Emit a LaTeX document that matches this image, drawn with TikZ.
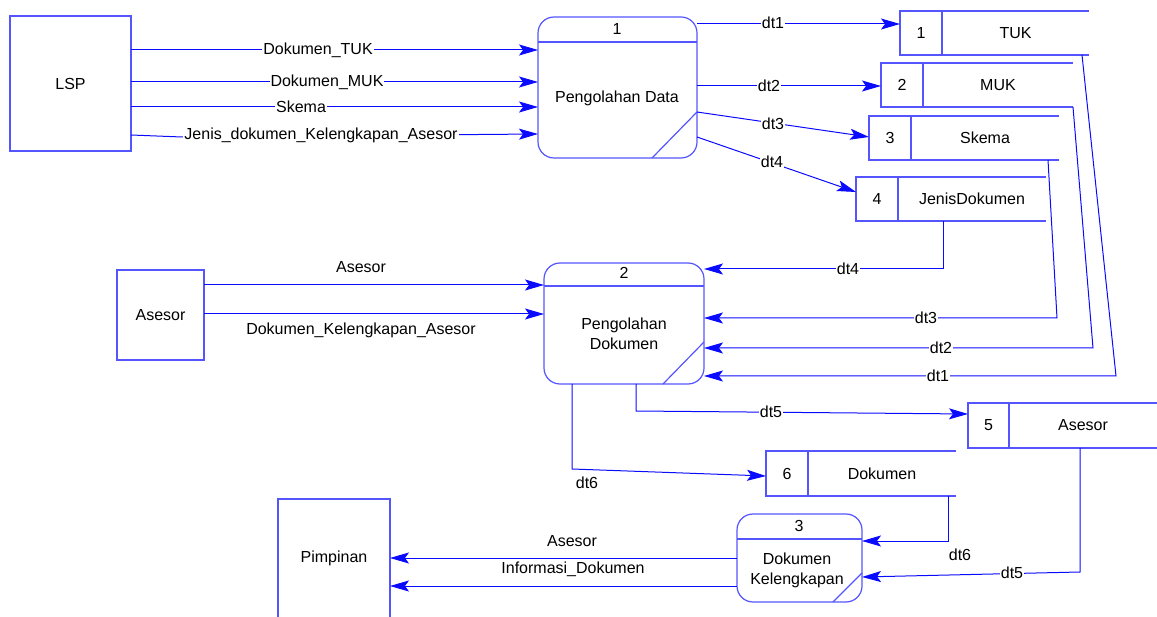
\documentclass[tikz,border=0pt]{standalone}
\usepackage{fontspec}
\setmainfont{Liberation Sans}
\usetikzlibrary{arrows.meta}
\definecolor{flowcol}{RGB}{10,10,255}
\definecolor{boxcol}{RGB}{85,85,255}
\newcommand\DataStore[8]{%
  \node[minimum width={#4-#2}, minimum height={#5-#3}] (#1) at ({(#2+#4)/2},{(#3+#5)/2}) {};
  \draw[boxline] (#1.north east) -- (#1.north west) -- (#1.south west) -- (#1.south east);
  \draw[boxline] (#1.north -| #6,0) -- (#1.south -| #6,0);
  \node (#1n) at ({(#2+#6)/2},{(#3+#5)/2}) {#7};
  \node (#1t) at ({(#6+#4)/2},{(#3+#5)/2}) {#8};
}
\begin{document}
\begin{tikzpicture}[x=1pt,y=-1pt,
  every node/.style={font=\fontsize{16}{20}\selectfont, text=black, inner sep=0pt, outer sep=0pt},
  boxline/.style={draw=boxcol, line width=1.2pt},
  box/.style={draw=boxcol, line width=1.2pt, rectangle},
  proc/.style={draw=boxcol, line width=1.2pt, rounded corners=16pt, rectangle},
  flow/.style={draw=flowcol, line width=1pt, -{Stealth[length=19pt,width=11pt,inset=4pt]}},
  lbl/.style={fill=white, inner sep=1pt}]
\useasboundingbox (0,0) rectangle (1157,617);

% external entities
\node[box, minimum width=121pt, minimum height=135pt] (lsp) at (70.5,83.5) {LSP};
\node[box, minimum width=87pt, minimum height=90pt] (ases) at (160.5,315) {Asesor};
\node[minimum width=112pt, minimum height=118pt] (pimp) at (334,558) {Pimpinan};
\draw[boxline] (pimp.south west) -- (pimp.north west) -- (pimp.north east) -- (pimp.south east);

% processes
\node[proc, minimum width=159pt, minimum height=141pt] (p1) at (617.5,87.5) {};
\draw[boxline] (p1.west |- 0,42) -- (p1.east |- 0,42);
\draw[boxline] (p1.east |- 0,112) -- (p1.south -| 652,0);
\node (p1n) at (617,29) {1};
\node (p1t) at (617,98) {Pengolahan Data};

\node[proc, minimum width=160pt, minimum height=121pt] (p2) at (624,323.5) {};
\draw[boxline] (p2.west |- 0,286) -- (p2.east |- 0,286);
\draw[boxline] (p2.east |- 0,342) -- (p2.south -| 663,0);
\node (p2n) at (624,273) {2};
\node[align=center] (p2t) at (624,334) {Pengolahan\\Dokumen};

\node[proc, minimum width=125pt, minimum height=88pt] (p3) at (799.5,558) {};
\draw[boxline] (p3.west |- 0,539) -- (p3.east |- 0,539);
\draw[boxline] (p3.east |- 0,573) -- (p3.south -| 833,0);
\node (p3n) at (799,526) {3};
\node[align=center] (p3t) at (797,570) {Dokumen\\Kelengkapan};

% data stores
\DataStore{s1}{900}{11}{1089}{55}{942}{1}{TUK}
\DataStore{s2}{881}{63}{1073}{107}{923}{2}{MUK}
\DataStore{s3}{869}{116}{1059}{160}{911}{3}{Skema}
\DataStore{s4}{856}{177}{1046}{221}{898}{4}{JenisDokumen}
\DataStore{s5}{968}{403}{1157}{448}{1009}{5}{Asesor}
\DataStore{s6}{766}{451}{956}{496}{808}{6}{Dokumen}

% LSP -> P1
\draw[flow] (lsp.east |- 0,50) -- (p1.west |- 0,50);
\node[lbl] (f1) at (318,50) {Dokumen\_TUK};
\draw[flow] (lsp.east |- 0,82) -- (p1.west |- 0,82);
\node[lbl] (f2) at (327,82) {Dokumen\_MUK};
\draw[flow] (lsp.east |- 0,107) -- (p1.west |- 0,107);
\node[lbl] (f3) at (301,107) {Skema};
\draw[flow] (lsp.east |- 0,135) -- (182,137) -- (p1.west |- 0,134);
\node[lbl] (f4) at (321,135) {Jenis\_dokumen\_Kelengkapan\_Asesor};

% P1 -> stores
\draw[flow] (p1.east |- 0,24) -- (s1.west |- 0,24);
\node[lbl] (d1) at (773,23) {dt1};
\draw[flow] (p1.east |- 0,86) -- (s2.west |- 0,86);
\node[lbl] (d2) at (769,86) {dt2};
\draw[flow] (p1.east |- 0,112) -- (s3.west |- 0,137);
\node[lbl] (d3) at (773,124) {dt3};
\draw[flow] (p1.east |- 0,137) -- (s4.west |- 0,192);
\node[lbl] (d4) at (772,162) {dt4};

% stores -> P2
\draw[flow] (s4.south -| 943,0) -- (943,269) -- (p2.east |- 0,269);
\node[lbl] (e4) at (848,269) {dt4};
\draw[flow] (s3.south -| 1048,0) -- (1057,318) -- (p2.east |- 0,318);
\node[lbl] (e3) at (926,318) {dt3};
\draw[flow] (s2.south -| 1073,0) -- (1093,348) -- (p2.east |- 0,348);
\node[lbl] (e2) at (941,348) {dt2};
\draw[flow] (s1.south -| 1082,0) -- (1116,376) -- (p2.east |- 0,376);
\node[lbl] (e1) at (938,376) {dt1};

% Asesor -> P2
\draw[flow] (ases.east |- 0,285) -- (p2.west |- 0,285);
\node (a1) at (361,267) {Asesor};
\draw[flow] (ases.east |- 0,314) -- (p2.west |- 0,314);
\node (a2) at (361,330) {Dokumen\_Kelengkapan\_Asesor};

% P2 -> stores
\draw[flow] (p2.south -| 636,0) -- (636,411) -- (s5.west |- 0,414);
\node[lbl] (g5) at (771,412) {dt5};
\draw[flow] (p2.south -| 572,0) -- (572,469) -- (s6.west |- 0,476);
\node (g6) at (587,483) {dt6};

% stores -> P3
\draw[flow] (s6.south -| 948,0) -- (948,541) -- (p3.east |- 0,541);
\node (h6) at (960,555) {dt6};
\draw[flow] (s5.south -| 1080,0) -- (1080,572) -- (p3.east |- 0,577);
\node[lbl] (h5) at (1012,573) {dt5};

% P3 -> Pimpinan
\draw[flow] (p3.west |- 0,558) -- (pimp.east |- 0,558);
\node (k1) at (572,541) {Asesor};
\draw[flow] (p3.west |- 0,586) -- (pimp.east |- 0,586);
\node (k2) at (573,569) {Informasi\_Dokumen};
\end{tikzpicture}
\end{document}
